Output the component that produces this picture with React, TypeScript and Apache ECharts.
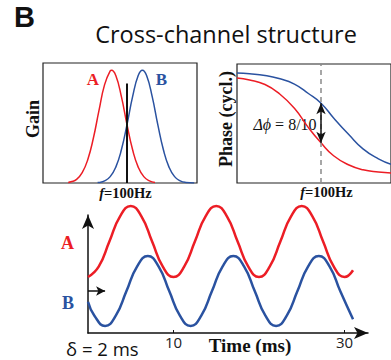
import React, { useEffect, useRef } from "react";
import * as echarts from "echarts";

const RED = "#ec1d25";
const BLUE = "#2a52a0";

// Gain panel (frequency, gain)
const gainRed: number[][] = [
  [58, 0.005], [60, 0.01], [64, 0.03], [68, 0.086], [72, 0.196], [76, 0.375], [80, 0.605],
  [84, 0.82], [88, 0.935], [89, 0.94], [92, 0.895], [96, 0.72], [100, 0.487], [104, 0.277],
  [108, 0.1325], [112, 0.053], [116, 0.018], [120, 0.005],
];
const gainBlue: number[][] = [
  [79, 0.004], [80, 0.005], [84, 0.018], [88, 0.053], [92, 0.1325], [96, 0.277], [100, 0.487],
  [104, 0.72], [108, 0.895], [111, 0.94], [114, 0.895], [118, 0.72], [122, 0.487], [126, 0.277],
  [130, 0.1325], [134, 0.053], [138, 0.018], [142, 0.005], [148, 0.001],
];

// Phase panel (frequency, phase in cycles)
const phaseRed: number[][] = [
  [40, 2.118], [49, 2.079], [60, 1.986], [70, 1.806], [81, 1.507], [91, 1.117], [100, 0.81],
  [109, 0.549], [120, 0.363], [130, 0.266], [141, 0.22], [150, 0.2],
];
const phaseBlue: number[][] = [
  [40, 2.219], [49, 2.203], [60, 2.17], [70, 2.108], [81, 1.995], [91, 1.805], [100, 1.61],
  [109, 1.311], [120, 0.972], [130, 0.688], [141, 0.488], [150, 0.379],
];

// Time panel (ms, amplitude)
const waveRed: number[][] = [
  [0, 5.6], [1.25, 6.64], [2.5, 9.15], [3.75, 11.66], [5, 12.7], [6.25, 11.66], [7.5, 9.15],
  [8.75, 6.64], [10, 5.6], [11.25, 6.64], [12.5, 9.15], [13.75, 11.66], [15, 12.7], [16.25, 11.66],
  [17.5, 9.15], [18.75, 6.64], [20, 5.6], [21.25, 6.64], [22.5, 9.15], [23.75, 11.66], [25, 12.7],
  [26.25, 11.66], [27.5, 9.15], [28.75, 6.64], [30, 5.6], [31, 6.28],
];
const waveBlue: number[][] = [
  [0, 3.12], [0.75, 1.73], [2, 0.7], [3.25, 1.73], [4.5, 4.2], [5.75, 6.67], [7, 7.7],
  [8.25, 6.67], [9.5, 4.2], [10.75, 1.73], [12, 0.7], [13.25, 1.73], [14.5, 4.2], [15.75, 6.67],
  [17, 7.7], [18.25, 6.67], [19.5, 4.2], [20.75, 1.73], [22, 0.7], [23.25, 1.73], [24.5, 4.2],
  [25.75, 6.67], [27, 7.7], [28.25, 6.67], [29.5, 4.2], [31, 1.37],
];
const timeTicks = [10, 30];
const probeFreq = 100;
const delayMs = 2;

const SERIF = '"Liberation Serif", "DejaVu Serif", serif';
const SANS = '"Open Sans", "Noto Sans", sans-serif';

export default function App() {
  const ref = useRef<HTMLDivElement>(null);
  useEffect(() => {
    if (!ref.current) return;
    const chart = echarts.init(ref.current, null, { renderer: "svg" });
    const hiddenAxis = {
      axisLine: { show: false },
      axisTick: { show: false },
      axisLabel: { show: false },
      splitLine: { show: false },
    };
    const box = { show: true, borderColor: "#222", borderWidth: 1.2, backgroundColor: "transparent" };
    chart.setOption({
      animation: false,
      grid: [
        { left: 43, top: 63, width: 154, height: 120, ...box },
        { left: 237, top: 64, width: 156, height: 119, ...box },
        { left: 88, top: 215, width: 280, height: 118 },
      ],
      xAxis: [
        { gridIndex: 0, type: "value", min: 40, max: 150, ...hiddenAxis },
        { gridIndex: 1, type: "value", min: 40, max: 150, ...hiddenAxis },
        {
          gridIndex: 2, type: "value", min: 0, max: 32.75, interval: 10,
          axisLine: { show: true, lineStyle: { color: "#111", width: 1.5 }, symbol: ["none", "arrow"], symbolSize: [9, 14] },
          axisTick: { show: true, inside: true, length: 3, customValues: timeTicks, lineStyle: { color: "#111" } },
          axisLabel: { show: true, customValues: timeTicks, margin: 1, fontSize: 15, fontFamily: SANS, color: "#222" },
          splitLine: { show: false },
        },
      ],
      yAxis: [
        { gridIndex: 0, type: "value", min: 0, max: 1, ...hiddenAxis },
        { gridIndex: 1, type: "value", min: 0, max: 2.4, ...hiddenAxis },
        {
          gridIndex: 2, type: "value", min: 0, max: 11.8,
          axisLine: { show: true, lineStyle: { color: "#111", width: 1.5 }, symbol: ["none", "arrow"], symbolSize: [9, 14] },
          axisTick: { show: false }, axisLabel: { show: false }, splitLine: { show: false },
        },
      ],
      series: [
        {
          type: "line", xAxisIndex: 0, yAxisIndex: 0, data: gainRed, smooth: true, showSymbol: false,
          lineStyle: { color: RED, width: 1.5 }, silent: true,
        },
        {
          type: "line", xAxisIndex: 0, yAxisIndex: 0, data: gainBlue, smooth: true, showSymbol: false,
          lineStyle: { color: BLUE, width: 1.5 }, silent: true,
          markLine: {
            silent: true, symbol: "none", label: { show: false },
            lineStyle: { color: "#111", width: 2, type: "solid" },
            data: [[{ coord: [probeFreq, 0] }, { coord: [probeFreq, 0.83] }]],
          },
        },
        {
          type: "line", xAxisIndex: 1, yAxisIndex: 1, data: phaseRed, smooth: true, showSymbol: false,
          lineStyle: { color: RED, width: 1.5 }, silent: true,
          markLine: {
            silent: true, symbol: "none", label: { show: false },
            lineStyle: { color: "#8a8a8a", width: 1.5, type: [5, 4] },
            data: [{ xAxis: probeFreq }],
          },
        },
        {
          type: "line", xAxisIndex: 1, yAxisIndex: 1, data: phaseBlue, smooth: true, showSymbol: false,
          lineStyle: { color: BLUE, width: 1.5 }, silent: true, z: 3,
          markLine: {
            silent: true, symbol: ["arrow", "arrow"], symbolSize: [7, 11], label: { show: false },
            lineStyle: { color: "#111", width: 1.5, type: "solid" },
            data: [[{ coord: [probeFreq, 1.61] }, { coord: [probeFreq, 0.81] }]],
          },
        },
        {
          type: "line", xAxisIndex: 2, yAxisIndex: 2, data: waveRed, smooth: true, showSymbol: false,
          lineStyle: { color: RED, width: 2.5 }, silent: true, clip: false,
          markLine: {
            silent: true, symbol: "none", label: { show: false },
            lineStyle: { color: "#8a8a8a", width: 2, type: [5, 4] },
            data: [[{ coord: [delayMs, 0.6] }, { coord: [delayMs, 13] }]],
          },
        },
        {
          type: "line", xAxisIndex: 2, yAxisIndex: 2, data: waveBlue, smooth: true, showSymbol: false,
          lineStyle: { color: BLUE, width: 2.5 }, silent: true, clip: false,
          markLine: {
            silent: true, symbol: ["none", "arrow"], symbolSize: [7, 9], label: { show: false },
            lineStyle: { color: "#111", width: 1.5, type: "solid" },
            data: [[{ coord: [0, 4.2] }, { coord: [delayMs, 4.2] }]],
          },
        },
      ],
      graphic: [
        { type: "text", x: 24.5, y: 17, style: { text: "B", font: 'bold 29px "Liberation Sans", Arial, sans-serif', fill: "#111", align: "center", verticalAlign: "middle" } },
        { type: "text", x: 226, y: 34, style: { text: "Cross-channel structure", font: `23.5px ${SANS}`, fill: "#111", align: "center", verticalAlign: "middle" } },
        { type: "text", x: 33, y: 119, rotation: Math.PI / 2, style: { text: "Gain", font: `bold 18px ${SERIF}`, fill: "#111", align: "center", verticalAlign: "middle" } },
        { type: "text", x: 93, y: 79, style: { text: "A", font: `bold 17px ${SERIF}`, fill: RED, align: "center", verticalAlign: "middle" } },
        { type: "text", x: 161.5, y: 79, style: { text: "B", font: `bold 17px ${SERIF}`, fill: BLUE, align: "center", verticalAlign: "middle" } },
        {
          type: "text", x: 125.5, y: 193,
          style: {
            text: "{i|f}{n|=100Hz}", align: "center", verticalAlign: "middle",
            rich: { i: { font: `italic bold 14.5px ${SERIF}`, fill: "#111" }, n: { font: `bold 14.5px ${SERIF}`, fill: "#111" } },
          },
        },
        { type: "text", x: 226, y: 119, rotation: Math.PI / 2, style: { text: "Phase (cycl.)", font: `bold 18px ${SERIF}`, fill: "#111", align: "center", verticalAlign: "middle" } },
        {
          type: "text", x: 285, y: 124,
          style: {
            text: "{i|Δϕ}{n| = 8/10}", align: "center", verticalAlign: "middle",
            rich: { i: { font: `italic 16px ${SERIF}`, fill: "#111" }, n: { font: `16px ${SERIF}`, fill: "#111" } },
          },
        },
        {
          type: "text", x: 326.5, y: 192,
          style: {
            text: "{i|f}{n|=100Hz}", align: "center", verticalAlign: "middle",
            rich: { i: { font: `italic bold 14.5px ${SERIF}`, fill: "#111" }, n: { font: `bold 14.5px ${SERIF}`, fill: "#111" } },
          },
        },
        { type: "text", x: 67.5, y: 243, style: { text: "A", font: `bold 18px ${SERIF}`, fill: RED, align: "center", verticalAlign: "middle" } },
        { type: "text", x: 68, y: 303, style: { text: "B", font: `bold 18px ${SERIF}`, fill: BLUE, align: "center", verticalAlign: "middle" } },
        { type: "text", x: 66, y: 348, style: { text: "δ = 2 ms", font: `18.5px ${SANS}`, fill: "#111", align: "left", verticalAlign: "middle" } },
        { type: "text", x: 250, y: 345, style: { text: "Time (ms)", font: `bold 19px ${SERIF}`, fill: "#111", align: "center", verticalAlign: "middle" } },
      ],
    });
    return () => chart.dispose();
  }, []);
  return (
    <div
      ref={ref}
      style={{ position: "fixed", left: 0, top: 0, width: 391, height: 360, background: "#fff" }}
    />
  );
}
